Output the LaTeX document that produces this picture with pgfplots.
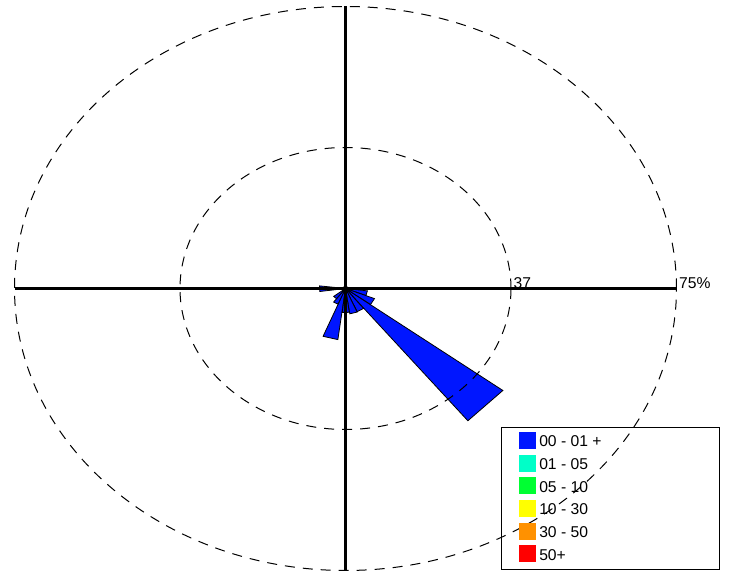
\documentclass[border=0pt]{standalone}
\usepackage{pgfplots}
\pgfplotsset{compat=1.18}
\usepackage{fontspec}
\setmainfont{Liberation Sans}
\definecolor{c1}{RGB}{0,22,255}
\definecolor{c2}{RGB}{0,255,200}
\definecolor{c3}{RGB}{0,255,50}
\definecolor{c4}{RGB}{255,255,0}
\definecolor{c5}{RGB}{255,145,0}
\definecolor{c6}{RGB}{255,0,0}
\begin{document}
\begin{tikzpicture}[font=\fontsize{11.75}{13}\selectfont]
\begin{axis}[
    scale only axis,
    width=547.5pt, height=428.25pt,
    xmin=-78.29, xmax=87.13,
    ymin=-75.13, ymax=76.73,
    hide axis,
    clip=false,
    wedge/.style={fill=c1, draw=black, line width=0.6pt, forget plot},
]
% wedges (00 - 01 + class), vertices in percent
\addplot[wedge] coordinates {(0,0) (35.66,-27.12) (27.73,-35.18)} -- cycle; % 135
\addplot[wedge] coordinates {(0,0) (-1.73,-13.59) (-5.08,-12.72)} -- cycle; % 195
\addplot[wedge] coordinates {(0,0) (-5.85,-0.80) (-5.86,0.69)} -- cycle;    % 270
\addplot[wedge] coordinates {(0,0) (4.96,-0.63) (4.64,-1.85)} -- cycle;     % 105
\addplot[wedge] coordinates {(0,0) (6.57,-2.69) (5.69,-4.25)} -- cycle;     % 120
\addplot[wedge] coordinates {(0,0) (4.10,-5.30) (2.64,-6.16)} -- cycle;     % 150
\addplot[wedge] coordinates {(0,0) (2.63,-6.27) (0.98,-6.73)} -- cycle;     % 165
\addplot[wedge] coordinates {(0,0) (0.86,-6.34) (-0.75,-6.36)} -- cycle;    % 180
\addplot[wedge] coordinates {(0,0) (-1.70,-4.17) (-2.69,-3.61)} -- cycle;   % 210
\addplot[wedge] coordinates {(0,0) (-2.06,-2.71) (-2.67,-2.10)} -- cycle;   % 225
% axes
\addplot[black, line width=2.2pt, forget plot] coordinates {(-75,0) (75,0)};
\addplot[black, line width=2.2pt, forget plot] coordinates {(0,-75) (0,75)};
% rings
\draw[black, line width=0.75pt, dash pattern=on 7.5pt off 6pt] (axis cs:0,0) ellipse [x radius=37.5, y radius=37.5];
\draw[black, line width=0.75pt, dash pattern=on 7.5pt off 6pt] (axis cs:0,0) ellipse [x radius=75, y radius=75];
\node[anchor=base west, inner sep=0pt, xshift=1.8pt] at (axis cs:37.5,0) {37};
\node[anchor=base west, inner sep=0pt, xshift=1.8pt] at (axis cs:75,0) {75\%};
\end{axis}
% legend box, laid out in picture pixels from the top-left corner
\begin{scope}[shift={(current axis.north west)}, x=0.75pt, y=-0.75pt]
  \draw[line width=0.75pt] (501.5,427.5) rectangle (719,569.5);
  \foreach \c/\t [count=\i from 0] in {c1/00 - 01 +, c2/01 - 05, c3/05 - 10, c4/10 - 30, c5/30 - 50, c6/50+} {
    \fill[\c] (519,432+22.7*\i) rectangle (535.7,449+22.7*\i);
    \node[anchor=base west, inner sep=0pt] at (539,446.7+22.7*\i) {\t};
  }
\end{scope}
\pgfresetboundingbox
\path (current axis.south west) rectangle (current axis.north east);
\end{tikzpicture}
\end{document}
